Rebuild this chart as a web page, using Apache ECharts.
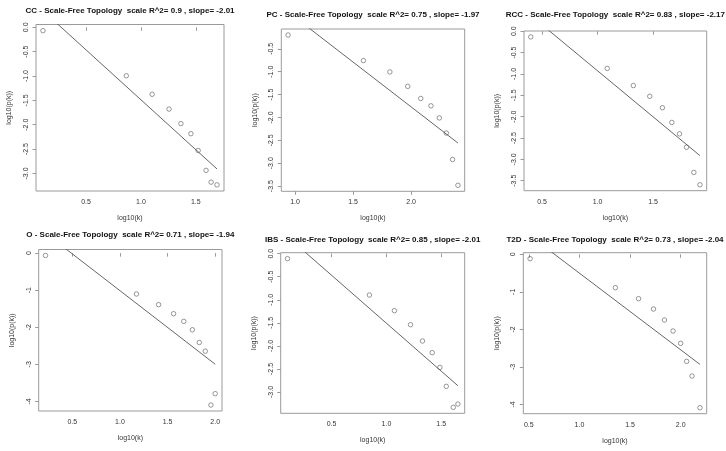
<!DOCTYPE html>
<html><head><meta charset="utf-8">
<script src="https://cdn.jsdelivr.net/npm/echarts@6/dist/echarts.min.js"></script>
<style>html,body{margin:0;padding:0;background:#fff}#c{width:726px;height:451px}</style>
</head><body><div id="c"></div><script>
// ---- data ----
const panelNames = ['CC', 'PC', 'RCC', 'O', 'IBS', 'T2D'];
const rSquaredText = ['0.9', '0.75', '0.83', '0.71', '0.85', '0.73'];
const slopeText = ['-2.01', '-1.97', '-2.17', '-1.94', '-2.01', '-2.04'];

const logK_CC  = [0.108, 0.867, 1.102, 1.256, 1.364, 1.455, 1.521, 1.593, 1.639, 1.693];
const logPk_CC = [-0.069, -0.995, -1.375, -1.679, -1.977, -2.184, -2.529, -2.937, -3.179, -3.234];
const logK_PC  = [0.940, 1.589, 1.817, 1.971, 2.083, 2.171, 2.243, 2.303, 2.357, 2.403];
const logPk_PC = [-0.199, -0.757, -1.006, -1.321, -1.585, -1.746, -2.010, -2.340, -2.918, -3.482];
const logK_RCC  = [0.398, 1.087, 1.322, 1.470, 1.584, 1.669, 1.738, 1.801, 1.867, 1.922];
const logPk_RCC = [-0.133, -0.871, -1.272, -1.523, -1.790, -2.135, -2.402, -2.716, -3.305, -3.595];
const logK_O  = [0.219, 1.174, 1.406, 1.563, 1.670, 1.760, 1.833, 1.896, 1.955, 2.000];
const logPk_O = [-0.063, -1.102, -1.391, -1.634, -1.842, -2.068, -2.411, -2.646, -4.099, -3.792];
const logK_IBS  = [0.098, 0.845, 1.073, 1.220, 1.329, 1.418, 1.488, 1.546, 1.610, 1.652];
const logPk_IBS = [-0.108, -0.897, -1.236, -1.540, -1.894, -2.147, -2.466, -2.878, -3.333, -3.261];
const logK_T2D  = [0.513, 1.355, 1.584, 1.732, 1.840, 1.925, 2.000, 2.059, 2.112, 2.190];
const logPk_T2D = [-0.116, -0.889, -1.182, -1.458, -1.751, -2.044, -2.373, -2.853, -3.244, -4.089];

// fitted line (intercept, slope) as drawn
const fitIntercept = [0.562, 2.145, 1.226, 0.974, 0.571, 1.541];
const fitSlope = [-2.05, -1.957, -2.153, -1.986, -2.079, -2.043];

const xTicks_CC = [0.5, 1.0, 1.5];
const xTicks_PC = [1.0, 1.5, 2.0];
const xTicks_RCC = [0.5, 1.0, 1.5];
const xTicks_O = [0.5, 1.0, 1.5, 2.0];
const xTicks_IBS = [0.5, 1.0, 1.5];
const xTicks_T2D = [0.5, 1.0, 1.5, 2.0];
const yTicks_CC = [0.0, -0.5, -1.0, -1.5, -2.0, -2.5, -3.0];
const yTicks_PC = [-0.5, -1.0, -1.5, -2.0, -2.5, -3.0, -3.5];
const yTicks_RCC = [0.0, -0.5, -1.0, -1.5, -2.0, -2.5, -3.0, -3.5];
const yTicks_O = [0, -1, -2, -3, -4];
const yTicks_IBS = [0.0, -0.5, -1.0, -1.5, -2.0, -2.5, -3.0];
const yTicks_T2D = [0, -1, -2, -3, -4];
const yTickDecimals = [1, 1, 1, 0, 1, 0];
const xAxisTitle = 'log10(k)';
const yAxisTitle = 'log10(p(k))';

// ---- layout (pixels) ----
const boxes = [
  {l: 36,    t: 24.5,  w: 188,   h: 166.5, ty: 10.7},
  {l: 281.3, t: 29,    w: 183.4, h: 162.3, ty: 15},
  {l: 524,   t: 31,    w: 182.7, h: 159.7, ty: 14.3},
  {l: 38.7,  t: 249.5, w: 183.3, h: 161.5, ty: 235},
  {l: 280.7, t: 252.7, w: 184,   h: 160.6, ty: 239.7},
  {l: 523.3, t: 252.7, w: 183.4, h: 161,   ty: 239.7}
];
const FONT = "'Liberation Sans', Arial, sans-serif";
const BOX = '#9a9a9a';

const xs = [logK_CC, logK_PC, logK_RCC, logK_O, logK_IBS, logK_T2D];
const ys = [logPk_CC, logPk_PC, logPk_RCC, logPk_O, logPk_IBS, logPk_T2D];
const xt = [xTicks_CC, xTicks_PC, xTicks_RCC, xTicks_O, xTicks_IBS, xTicks_T2D];
const yt = [yTicks_CC, yTicks_PC, yTicks_RCC, yTicks_O, yTicks_IBS, yTicks_T2D];

function rng(a) {
  const mn = Math.min(...a), mx = Math.max(...a), e = 0.04 * (mx - mn);
  return [mn - e, mx + e];
}

const grid = [], xAxis = [], yAxis = [], series = [], graphic = [];
panelNames.forEach((nm, i) => {
  const b = boxes[i];
  grid.push({left: b.l, top: b.t, width: b.w, height: b.h, show: true,
    borderColor: BOX, borderWidth: 1, backgroundColor: 'transparent', containLabel: false});
  const xr = rng(xs[i]), yr = rng(ys[i]);
  xAxis.push({type: 'value', gridIndex: i, min: xr[0], max: xr[1],
    splitLine: {show: false}, axisLine: {show: false},
    axisTick: {show: true, length: 3.5, lineStyle: {color: BOX, width: 1}, customValues: xt[i]},
    axisLabel: {show: true, customValues: xt[i], margin: 7.5, fontSize: 7, color: '#333', fontFamily: FONT,
      formatter: v => Number(v).toFixed(1), showMinLabel: true, showMaxLabel: true},
    name: xAxisTitle, nameLocation: 'middle', nameGap: 23.5,
    nameTextStyle: {fontSize: 7, color: '#333', fontFamily: FONT}});
  yAxis.push({type: 'value', gridIndex: i, min: yr[0], max: yr[1],
    splitLine: {show: false}, axisLine: {show: false},
    axisTick: {show: true, length: 3.5, lineStyle: {color: BOX, width: 1}, customValues: yt[i]},
    axisLabel: {show: true, customValues: yt[i], rotate: 90, margin: 6.5, fontSize: 7, color: '#333', fontFamily: FONT,
      formatter: v => Number(v).toFixed(yTickDecimals[i]), showMinLabel: true, showMaxLabel: true},
    name: yAxisTitle, nameLocation: 'middle', nameGap: 23,
    nameTextStyle: {fontSize: 7, color: '#333', fontFamily: FONT}});
  series.push({type: 'scatter', xAxisIndex: i, yAxisIndex: i, symbol: 'circle', symbolSize: 4.5,
    itemStyle: {color: 'rgba(255,255,255,0)', borderColor: '#555', borderWidth: 0.75}, silent: true,
    data: xs[i].map((x, k) => [x, ys[i][k]])});
  const x0 = Math.min(...xs[i]), x1 = Math.max(...xs[i]);
  series.push({type: 'line', xAxisIndex: i, yAxisIndex: i, symbol: 'none', clip: true, silent: true,
    lineStyle: {color: '#555', width: 0.9},
    data: [[x0, fitIntercept[i] + fitSlope[i] * x0], [x1, fitIntercept[i] + fitSlope[i] * x1]]});
  graphic.push({type: 'text', x: b.l + b.w / 2, y: b.ty, silent: true,
    style: {text: nm + ' - Scale-Free Topology  scale R^2= ' + rSquaredText[i] + ' , slope= ' + slopeText[i],
      align: 'center', verticalAlign: 'middle', textAlign: 'center', textVerticalAlign: 'middle',
      font: 'bold 8px ' + FONT, fill: '#111'}});
});

const chart = echarts.init(document.getElementById('c'), null, {renderer: 'canvas'});
chart.setOption({animation: false, backgroundColor: '#fff', graphic, grid, xAxis, yAxis, series});
</script></body></html>
